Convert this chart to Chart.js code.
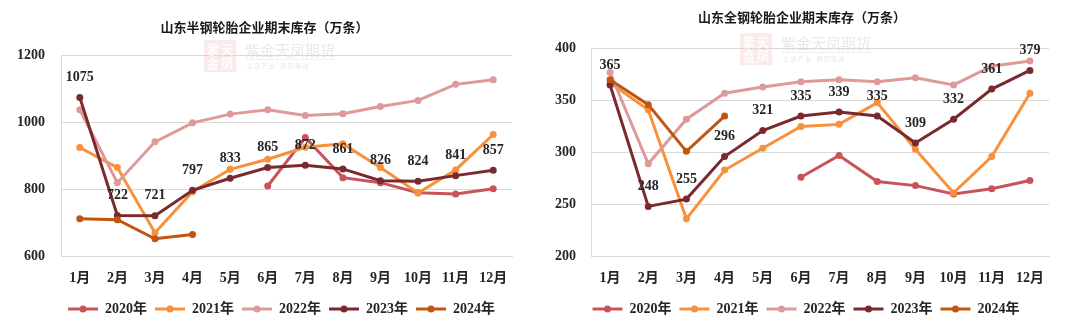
<!DOCTYPE html>
<html>
<head>
<meta charset="utf-8">
<script src="https://cdn.jsdelivr.net/npm/chart.js@4.4.1/dist/chart.umd.min.js"></script>
<style>
  html, body { margin: 0; padding: 0; background: #fff; }
  #wrap { position: relative; width: 1080px; height: 332px; overflow: hidden; }
  #wrap canvas { position: absolute; top: 0; }
</style>
</head>
<body>
<div id="wrap">
  <canvas id="semi" width="545" height="332" style="left:0;width:545px;height:332px"></canvas>
  <canvas id="all" width="520" height="332" style="left:545px;width:520px;height:332px"></canvas>
</div>
<script>
// categories
const months = ["1月", "2月", "3月", "4月", "5月", "6月", "7月", "8月", "9月", "10月", "11月", "12月"];
const years = ["2020年", "2021年", "2022年", "2023年", "2024年"];
const colors = ["#C8545A", "#F8913C", "#DD9A98", "#7A2A2E", "#C0560F"];

// 山东半钢轮胎企业期末库存（万条）
const semiTicks = [600, 800, 1000, 1200];
const semi2020 = [null, null, null, null, null, 810, 955, 835, 820, 790, 786, 802];
const semi2021 = [925, 865, 670, 793, 860, 890, 926, 936, 865, 789, 858, 964];
const semi2022 = [1038, 820, 942, 999, 1025, 1038, 1021, 1026, 1048, 1066, 1114, 1128];
const semi2023 = [1075, 722, 721, 797, 833, 865, 872, 861, 826, 824, 841, 857];
const semi2024 = [712, 709, 652, 665];

// 山东全钢轮胎企业期末库存（万条）
const allTicks = [200, 250, 300, 350, 400];
const all2020 = [null, null, null, null, null, 276, 297, 272, 268, 260, 265, 273];
const all2021 = [367, 341, 236, 283, 304, 325, 327, 348, 303, 261, 296, 357];
const all2022 = [377, 289, 332, 357, 363, 368, 370, 368, 372, 365, 383, 388];
const all2023 = [365, 248, 255, 296, 321, 335, 339, 335, 309, 332, 361, 379];
const all2024 = [370, 346, 301, 335];

const serif = "'Liberation Serif', 'Noto Sans CJK SC', serif";
const textColor = "#262626";

// value labels above the 2023 line
const valueLabels = {
  id: "valueLabels",
  afterDatasetsDraw(chart) {
    const meta = chart.getDatasetMeta(3);
    const ctx = chart.ctx;
    ctx.save();
    ctx.font = "bold 14px " + serif;
    ctx.fillStyle = textColor;
    ctx.textAlign = "center";
    ctx.textBaseline = "middle";
    meta.data.forEach((pt, i) => {
      const v = chart.data.datasets[3].data[i];
      if (v == null) return;
      ctx.fillText(String(v), pt.x, pt.y - 20);
    });
    ctx.restore();
  },
};

// nudge the legend sideways, then put marker dots on the line swatches
const legendDots = {
  id: "legendDots",
  afterLayout(chart, args, opts) {
    if (!chart.legend) return;
    chart.legend.left += opts.dx || 0;
    chart.legend.right += opts.dx || 0;
  },
  afterDraw(chart) {
    const lg = chart.legend;
    if (!lg || !lg.legendHitBoxes) return;
    const ctx = chart.ctx;
    lg.legendHitBoxes.forEach((box, i) => {
      const item = lg.legendItems[i];
      ctx.save();
      ctx.fillStyle = item.fillStyle;
      ctx.beginPath();
      ctx.arc(box.left + 15, box.top + box.height / 2, 3.5, 0, Math.PI * 2);
      ctx.fill();
      ctx.restore();
    });
  },
};

// faint company watermark
const watermark = {
  id: "watermark",
  beforeDatasetsDraw(chart, args, opts) {
    const ctx = chart.ctx;
    const x = opts.x, y = opts.y;
    ctx.save();
    ctx.fillStyle = "rgba(230, 160, 160, 0.22)";
    ctx.fillRect(x, y, 32, 32);
    ctx.fillStyle = "rgba(255, 255, 255, 0.85)";
    ctx.font = "bold 13px 'Noto Sans CJK SC'";
    ctx.textAlign = "center";
    ctx.textBaseline = "middle";
    ctx.fillText("紫", x + 9, y + 9);
    ctx.fillText("天", x + 23, y + 9);
    ctx.fillText("金", x + 9, y + 23);
    ctx.fillText("凤", x + 23, y + 23);
    ctx.textAlign = "left";
    ctx.fillStyle = "rgba(200, 200, 200, 0.4)";
    ctx.font = "15px 'Noto Sans CJK SC'";
    ctx.fillText("紫金天凤期货", x + 41, y + 10);
    ctx.strokeStyle = "rgba(210, 210, 210, 0.35)";
    ctx.lineWidth = 1;
    ctx.beginPath();
    ctx.moveTo(x + 41, y + 19.5);
    ctx.lineTo(x + 131, y + 19.5);
    ctx.stroke();
    ctx.font = "6px 'Noto Sans CJK SC'";
    ctx.fillStyle = "rgba(200, 200, 200, 0.45)";
    ctx.fillText("立 足 产 业    研 究 驱 动", x + 43, y + 26);
    ctx.restore();
  },
};

function makeChart(id, title, series, ticks, opt) {
  const datasets = series.map((data, i) => ({
    label: years[i],
    data: data,
    borderColor: colors[i],
    backgroundColor: colors[i],
    pointBackgroundColor: colors[i],
    pointBorderWidth: 0,
    pointRadius: 3.5,
    borderWidth: 3,
    tension: 0,
    order: series.length - 1 - i,
  }));

  return new Chart(document.getElementById(id), {
    type: "line",
    data: { labels: months, datasets: datasets },
    plugins: [watermark, valueLabels, legendDots],
    options: {
      responsive: false,
      animation: false,
      layout: { padding: opt.padding },
      scales: {
        x: {
          offset: true,
          grid: { display: false, drawTicks: false },
          border: { display: true, color: "#D9D9D9", width: 1 },
          ticks: { color: textColor, font: { family: serif, size: 14, weight: "bold" }, padding: 14, maxRotation: 0 },
          afterFit: (scale) => {
            scale.paddingLeft = 0;
            scale.paddingRight = 0;
            scale.height -= 7;
          },
        },
        y: {
          min: ticks[0],
          max: ticks[ticks.length - 1],
          afterBuildTicks: (axis) => { axis.ticks = ticks.map((v) => ({ value: v })); },
          afterFit: (scale) => { scale.width -= opt.yPad; },
          grid: { color: "#D9D9D9", lineWidth: 1, drawTicks: false },
          border: { display: true, color: "#D9D9D9", width: 1 },
          ticks: { color: textColor, font: { family: serif, size: 14, weight: "bold" }, padding: opt.yPad, callback: (v) => String(v) },
        },
      },
      plugins: {
        title: {
          display: true,
          text: title,
          color: "#1a1a1a",
          font: { family: "'Noto Sans CJK SC', sans-serif", size: 13, weight: "bold" },
          padding: opt.titlePad,
        },
        legend: {
          position: "bottom",
          labels: {
            boxWidth: 30,
            boxHeight: 3,
            padding: 8,
            color: textColor,
            font: { family: serif, size: 14, weight: "bold" },
            generateLabels: (chart) =>
              Chart.defaults.plugins.legend.labels.generateLabels(chart).map((l) => ({ ...l, lineWidth: 0 })),
            sort: (a, b) => a.datasetIndex - b.datasetIndex,
          },
        },
        tooltip: { enabled: false },
        watermark: opt.mark,
        legendDots: { dx: opt.legendDx },
      },
    },
  });
}

makeChart("semi", "山东半钢轮胎企业期末库存（万条）",
  [semi2020, semi2021, semi2022, semi2023, semi2024], semiTicks, {
    padding: { left: 17, right: 33, top: 0, bottom: 6 },
    yPad: 16,
    titlePad: { top: 19, bottom: 21 },
    mark: { x: 204, y: 40 },
    legendDx: 17,
  });

makeChart("all", "山东全钢轮胎企业期末库存（万条）",
  [all2020, all2021, all2022, all2023, all2024], allTicks, {
    padding: { left: 10, right: 16, top: 0, bottom: 6 },
    yPad: 15,
    titlePad: { top: 9, bottom: 24 },
    mark: { x: 195, y: 33 },
    legendDx: 4,
  });
</script>
</body>
</html>
